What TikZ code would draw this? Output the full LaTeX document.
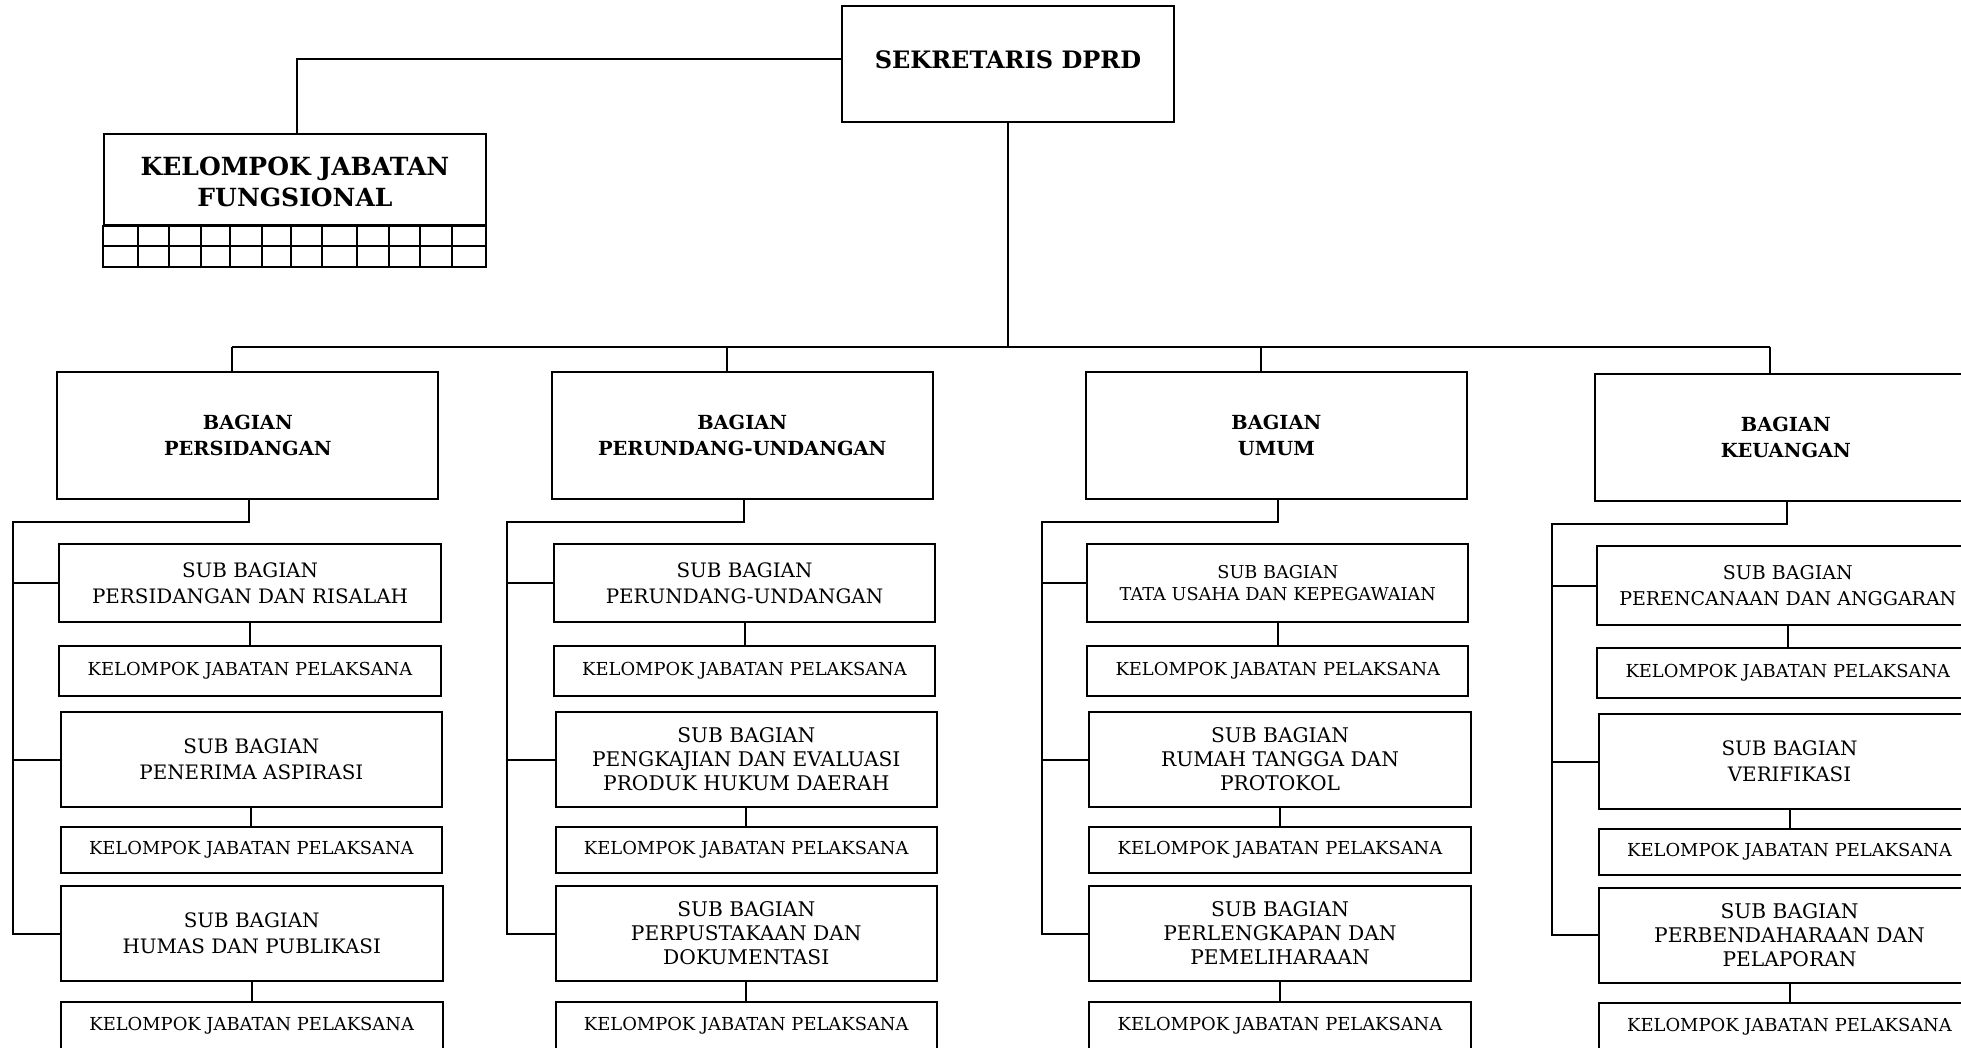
\documentclass[tikz,border=0pt]{standalone}
\usepackage{fontspec}
\setmainfont{DejaVu Serif}
\begin{document}
\begin{tikzpicture}[x=1pt,y=-1pt,
  box/.style={draw, line width=2pt, inner sep=0pt, align=center},
  ln/.style={line width=2pt},
  subf/.style={font=\fontsize{19.9}{26}\selectfont},
  sub3f/.style={font=\fontsize{20.2}{24}\selectfont},
  kjpf/.style={font=\fontsize{17.9}{20}\selectfont},
  bagf/.style={font=\bfseries\fontsize{19.4}{26}\selectfont},
  sekf/.style={font=\bfseries\fontsize{24}{28}\selectfont},
  kjff/.style={font=\bfseries\fontsize{25}{31}\selectfont},
  tataf/.style={font=\fontsize{17.7}{22}\selectfont}]
\useasboundingbox (0,0) rectangle (1961,1047);
% top
\node[box,sekf,minimum width=332.6pt,minimum height=116.3pt] (sek) at (1008,64.15) {\raisebox{9pt}{SEKRETARIS DPRD}};
\node[box,kjff,minimum width=382pt,minimum height=91pt] (kjf) at (295,179.5) {\rule{0pt}{24pt}KELOMPOK JABATAN\\FUNGSIONAL};
\draw[ln] (kjf.south west) rectangle (486,266.7);
\draw[ln] (104,246) -- (486,246);
\foreach \gx in {138.3,169.3,201,230,261.7,290.7,322.3,357.3,389,420,451.7}
  \draw[ln] (\gx,225) -- (\gx,266.7);
\coordinate (kc) at (297,59.3);
\draw[ln] (sek.west |- kc) -- (kc) -- (kc |- kjf.north);
% bus
\coordinate (d1) at (231.7,347);
\coordinate (d2) at (726.7,347);
\coordinate (d3) at (1260.7,347);
\coordinate (d4) at (1770,347);
\draw[ln] (sek.south) -- (sek.south |- d1);
\draw[ln] (d1) -- (d4);
% column 1
\node[box,bagf,minimum width=381pt,minimum height=127.3pt] (b1) at (247.8,435.35) {BAGIAN\\PERSIDANGAN};
\node[box,subf,minimum width=381.4pt,minimum height=78.3pt] (s11) at (250,583.15) {SUB BAGIAN\\PERSIDANGAN DAN RISALAH};
\node[box,kjpf,minimum width=381.4pt,minimum height=49.6pt] (k11) at (250,670.8) {KELOMPOK JABATAN PELAKSANA};
\node[box,subf,minimum width=381.3pt,minimum height=95pt] (s12) at (251.35,759.5) {SUB BAGIAN\\PENERIMA ASPIRASI};
\node[box,kjpf,minimum width=381.3pt,minimum height=46.9pt] (k12) at (251.35,849.95) {KELOMPOK JABATAN PELAKSANA};
\node[box,subf,minimum width=382pt,minimum height=95pt] (s13) at (251.7,933.5) {SUB BAGIAN\\HUMAS DAN PUBLIKASI};
\node[box,kjpf,minimum width=382pt,minimum height=47.5pt] (k13) at (251.7,1025.45) {KELOMPOK JABATAN PELAKSANA};
\coordinate (t1) at (249.3,522.2);
\coordinate (l1) at (12.7,522.2);
% column 2
\node[box,bagf,minimum width=381pt,minimum height=127.3pt] (b2) at (742.2,435.35) {BAGIAN\\PERUNDANG-UNDANGAN};
\node[box,subf,minimum width=381pt,minimum height=78.3pt] (s21) at (744.5,583.15) {SUB BAGIAN\\PERUNDANG-UNDANGAN};
\node[box,kjpf,minimum width=381pt,minimum height=49.6pt] (k21) at (744.5,670.8) {KELOMPOK JABATAN PELAKSANA};
\node[box,sub3f,minimum width=380.5pt,minimum height=95pt] (s22) at (746.25,759.5) {SUB BAGIAN\\PENGKAJIAN DAN EVALUASI\\PRODUK HUKUM DAERAH};
\node[box,kjpf,minimum width=380.5pt,minimum height=46.9pt] (k22) at (746.25,849.95) {KELOMPOK JABATAN PELAKSANA};
\node[box,sub3f,minimum width=380.5pt,minimum height=95pt] (s23) at (746.25,933.5) {SUB BAGIAN\\PERPUSTAKAAN DAN\\DOKUMENTASI};
\node[box,kjpf,minimum width=380.5pt,minimum height=47.5pt] (k23) at (746.25,1025.45) {KELOMPOK JABATAN PELAKSANA};
\coordinate (t2) at (743.7,522.2);
\coordinate (l2) at (507.3,522.2);
% column 3
\node[box,bagf,minimum width=381.3pt,minimum height=127.3pt] (b3) at (1276.35,435.35) {BAGIAN\\UMUM};
\node[box,tataf,minimum width=381pt,minimum height=78.3pt] (s31) at (1277.8,583.15) {SUB BAGIAN\\TATA USAHA DAN KEPEGAWAIAN};
\node[box,kjpf,minimum width=381pt,minimum height=49.6pt] (k31) at (1277.8,670.8) {KELOMPOK JABATAN PELAKSANA};
\node[box,sub3f,minimum width=382pt,minimum height=95pt] (s32) at (1280,759.5) {SUB BAGIAN\\RUMAH TANGGA DAN\\PROTOKOL};
\node[box,kjpf,minimum width=382pt,minimum height=46.9pt] (k32) at (1280,849.95) {KELOMPOK JABATAN PELAKSANA};
\node[box,sub3f,minimum width=382pt,minimum height=95pt] (s33) at (1280,933.5) {SUB BAGIAN\\PERLENGKAPAN DAN\\PEMELIHARAAN};
\node[box,kjpf,minimum width=382pt,minimum height=47.5pt] (k33) at (1280,1025.45) {KELOMPOK JABATAN PELAKSANA};
\coordinate (t3) at (1278,522.2);
\coordinate (l3) at (1041.7,522.2);
% column 4
\node[box,bagf,minimum width=381pt,minimum height=127.2pt] (b4) at (1785.8,437.4) {BAGIAN\\KEUANGAN};
\node[box,subf,font=\fontsize{19}{26}\selectfont,minimum width=381pt,minimum height=79.4pt] (s41) at (1787.8,585.7) {SUB BAGIAN\\PERENCANAAN DAN ANGGARAN};
\node[box,kjpf,minimum width=381pt,minimum height=49.6pt] (k41) at (1787.8,672.8) {KELOMPOK JABATAN PELAKSANA};
\node[box,subf,minimum width=381pt,minimum height=95.6pt] (s42) at (1789.5,761.6) {SUB BAGIAN\\VERIFIKASI};
\node[box,kjpf,minimum width=381pt,minimum height=46pt] (k42) at (1789.5,852.2) {KELOMPOK JABATAN PELAKSANA};
\node[box,sub3f,minimum width=381pt,minimum height=95.2pt] (s43) at (1789.5,935.4) {SUB BAGIAN\\PERBENDAHARAAN DAN\\PELAPORAN};
\node[box,kjpf,minimum width=381pt,minimum height=47.2pt] (k43) at (1789.5,1026.4) {KELOMPOK JABATAN PELAKSANA};
\coordinate (t4) at (1787.3,524);
\coordinate (l4) at (1551.7,524);
% connectors per column
\foreach \c in {1,2,3,4}{
  \draw[ln] (d\c) -- (d\c |- b\c.north);
  \draw[ln] (t\c |- b\c.south) -- (t\c) -- (l\c) -- (l\c |- s\c3.west) -- (s\c3.west);
  \draw[ln] (l\c |- s\c1.west) -- (s\c1.west);
  \draw[ln] (l\c |- s\c2.west) -- (s\c2.west);
  \draw[ln] (s\c1.south) -- (k\c1.north);
  \draw[ln] (s\c2.south) -- (k\c2.north);
  \draw[ln] (s\c3.south) -- (k\c3.north);
}
\end{tikzpicture}
\end{document}
